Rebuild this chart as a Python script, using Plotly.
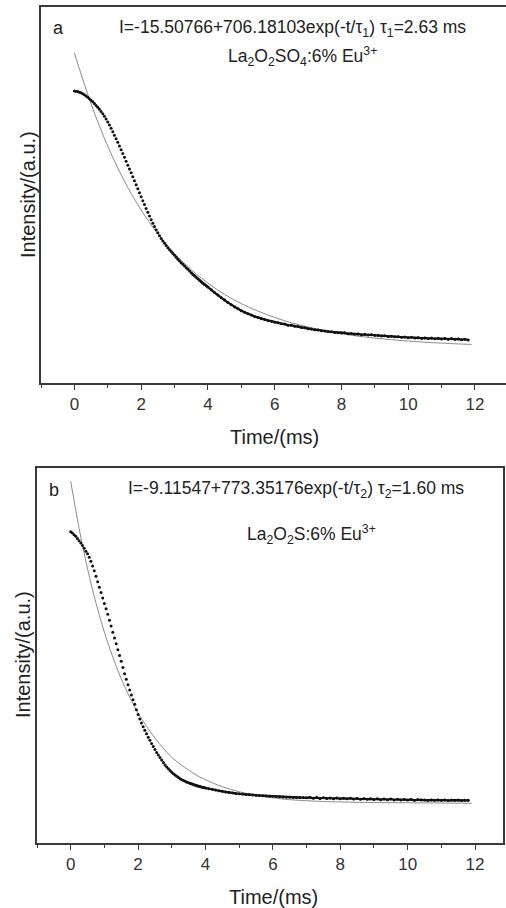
import plotly.graph_objects as go

W, H = 506, 908

# sampling grid of the decay measurement (ms)
t_data = [round(0.05 * i, 2) for i in range(81)] + [round(4 + 0.1 * i, 1) for i in range(1, 79)]

# panel a: La2O2SO4:6% Eu3+ measured decay (a.u.)
a_data = [
    599, 598.5, 597.5, 596, 594.5, 592.5, 590, 587, 584, 580.5,
    577, 573, 569, 564.5, 560, 555, 550, 544.5, 538.5, 532,
    525, 517.5, 509.5, 501.5, 493, 484.5, 476, 467.5, 458.5, 449.5,
    440.5, 431, 421.5, 412.5, 403, 393.5, 384, 374.5, 365, 355.5,
    346, 336.5, 327, 317.5, 308.5, 299.5, 291, 282.5, 274.5, 267,
    259.5, 252.5, 246, 240, 234.5, 229, 224, 219, 214.5, 210,
    205.5, 201, 196.5, 192, 188, 184, 180, 176, 172, 168,
    164, 160, 156.5, 153, 149.5, 146, 142.5, 139, 135.5, 132.5,
    129.5,
    123, 116.5, 110.5, 104, 98.5, 92.5, 87.5, 82, 78, 73,
    69.5, 65.5, 62.5, 59, 57, 54, 52, 49.5, 48, 45.5,
    44, 42, 41, 38.5, 38, 36, 35, 33, 32, 30,
    29.5, 27.5, 27, 25, 24.5, 23, 22.5, 21, 20.5, 19.5,
    20, 18, 18.5, 17, 17.5, 15.5, 16.5, 15, 15.5, 14,
    14, 12.5, 13, 11.5, 12, 10.5, 11, 9.5, 10, 8.5,
    9.5, 8, 8.5, 7, 8, 6.5, 7.5, 6, 7, 5.5,
    6.5, 5, 6, 4.5, 5.5, 3.5, 5, 3,
]

# panel b: La2O2S:6% Eu3+ measured decay (a.u.)
b_data = [
    647, 644, 640, 636, 631, 625.5, 620, 614, 607.5, 600.5,
    594, 586, 576, 565, 553.5, 540, 527, 514, 501, 488,
    475, 462, 449, 434.5, 421, 406, 392, 378, 364, 350,
    336, 321, 306, 293, 280, 267.5, 255.5, 244, 233, 220,
    208.5, 197.5, 188, 179, 170.5, 162, 154, 146.5, 139, 131.5,
    124.5, 117.5, 111, 105, 99, 93, 87.5, 82.5, 78, 74,
    70, 66.5, 63, 60, 57, 54.5, 52, 50, 48, 46,
    44.5, 43, 41.5, 40, 38.5, 37, 36, 35, 34, 33,
    32,
    30.5, 29, 27.5, 25.5, 24, 22.5, 21.5, 20, 19, 18,
    17.5, 16.5, 16, 15, 14.5, 14, 13.5, 13, 12.5, 12,
    11.5, 11, 10.5, 10, 10, 9.5, 9.5, 9, 9,
    8.5, 9.5, 7.5, 9, 7, 8.5, 7, 8, 6.5, 8,
    6, 7.5, 6, 7.5, 5.5, 7, 5, 6.5, 5, 6,
    4.5, 6, 4, 5.5, 4, 5.5, 3.5, 5, 3.5, 4.5,
    3, 4.5, 2.5, 4, 3, 3.5, 2.5, 3.5, 2.5, 3.5,
    2.5, 3.5, 2, 3, 2.5, 3, 2, 2.5, 2.5,
]

# fitted single-exponential curves
t_fit_a = [0, 0.5, 1.0, 1.5, 2.0, 2.5, 3.0, 3.5, 4.0, 4.5, 5.0, 5.5, 6.0, 6.5,
           7.0, 7.5, 8.0, 8.5, 9.0, 9.5, 10.0, 10.5, 11.0, 11.5, 11.9]
fit_a = [690, 568, 467, 383, 314, 257, 210, 171, 139, 112, 90, 72, 57, 44,
         34, 25, 18, 12, 7.5, 3.5, 0.5, -2.5, -4.5, -6.5, -7.5]

t_fit_b = [0, 0.25, 0.5, 0.75, 1.0, 1.25, 1.5, 1.75, 2.0, 2.25, 2.5, 2.75, 3.0,
           3.25, 3.5, 3.75, 4.0, 4.5, 5.0, 5.5, 6.0, 6.5, 7.0, 7.5, 8.0, 9.0,
           10.0, 11.0, 11.9]
fit_b = [768, 655, 558, 476, 406, 346, 294, 250, 212, 180, 152, 127, 106,
         89, 75, 62, 52, 35, 23, 14.5, 8.5, 4, 1.5, -0.5, -1.5, -3,
         -3.5, -4, -4.5]

x_ticks = [0, 2, 4, 6, 8, 10, 12]

FONT = "Liberation Sans, Arial, sans-serif"
TXT = "#222222"
AX = "#3a3a3a"
SPLIT = 70  # from about 3.5 ms the recorded points merge into a continuous band

fig = go.Figure()

for xa, ya, tf, vf, vd in (("x", "y", t_fit_a, fit_a, a_data), ("x2", "y2", t_fit_b, fit_b, b_data)):
    fig.add_trace(go.Scatter(x=tf, y=vf, mode="lines", line=dict(color="#8c8c8c", width=1, shape="spline"),
                             xaxis=xa, yaxis=ya, hoverinfo="skip"))
    fig.add_trace(go.Scatter(x=t_data, y=vd, mode="markers", marker=dict(color="#111111", size=3),
                             xaxis=xa, yaxis=ya))
    fig.add_trace(go.Scatter(x=t_data[SPLIT:], y=vd[SPLIT:], mode="lines",
                             line=dict(color="#111111", width=2.2),
                             xaxis=xa, yaxis=ya, hoverinfo="skip"))

def xax(domain, rng, anchor):
    return dict(domain=domain, range=rng, anchor=anchor, showgrid=False, zeroline=False,
                showline=True, linecolor=AX, linewidth=1.5, mirror=True,
                ticks="outside", ticklen=5, tickwidth=1.2, tickcolor=AX,
                tickvals=x_ticks, ticktext=[str(v) for v in x_ticks],
                minor=dict(ticks="outside", ticklen=3, tickwidth=1.2, tickcolor=AX, dtick=1, tick0=1),
                tickfont=dict(family=FONT, size=17, color="#333333"))

def yax(domain, rng, anchor, mirror):
    return dict(domain=domain, range=rng, anchor=anchor, showgrid=False, zeroline=False,
                showline=True, linecolor=AX, linewidth=1.5, mirror=mirror,
                ticks="", showticklabels=False)

fig.update_layout(
    width=W, height=H, margin=dict(l=0, r=0, t=0, b=0),
    paper_bgcolor="white", plot_bgcolor="white", showlegend=False,
    xaxis=xax([41 / W, 1.0], [-1, 12.93], "y"),
    yaxis=yax([1 - 383 / H, 1 - 7 / H], [-100, 800], "x", False),
    xaxis2=xax([37 / W, 503 / W], [-1, 12.83], "y2"),
    yaxis2=yax([1 - 843 / H, 1 - 468 / H], [-100, 800], "x2", True),
)

def ann(text, px, py, size, angle=0, xanchor="center"):
    fig.add_annotation(text=text, x=px / W, y=1 - py / H, xref="paper", yref="paper",
                       showarrow=False, xanchor=xanchor, yanchor="middle", textangle=angle,
                       font=dict(family=FONT, size=size, color=TXT))

ann("a", 58, 28, 18)
ann("I=-15.50766+706.18103exp(-t/τ<sub>1</sub>) τ<sub>1</sub>=2.63 ms", 292, 29, 17.5)
ann("La<sub>2</sub>O<sub>2</sub>SO<sub>4</sub>:6% Eu<sup>3+</sup>", 302, 56, 17.5)
ann("Time/(ms)", 274, 437, 20)
ann("Intensity/(a.u.)", 28, 195, 20, angle=-90)

ann("b", 54, 490, 18)
ann("I=-9.11547+773.35176exp(-t/τ<sub>2</sub>) τ<sub>2</sub>=1.60 ms", 296, 489, 17.5)
ann("La<sub>2</sub>O<sub>2</sub>S:6% Eu<sup>3+</sup>", 311, 534, 17.5)
ann("Time/(ms)", 273, 897, 20)
ann("Intensity/(a.u.)", 23, 655, 20, angle=-90)

fig.write_html("out.html")
